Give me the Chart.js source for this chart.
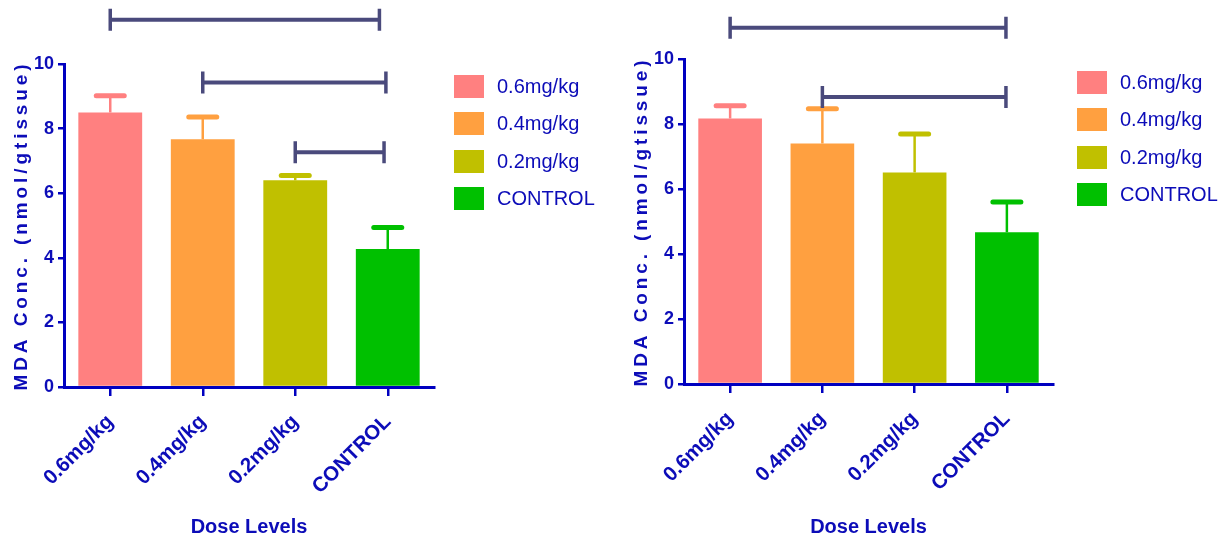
<!DOCTYPE html>
<html>
<head>
<meta charset="utf-8">
<script src="https://cdn.jsdelivr.net/npm/chart.js@4.4.1/dist/chart.umd.min.js"></script>
<style>
  body { margin: 0; background: #fff; font-family: 'Liberation Sans', Arial, sans-serif; }
  .panel { position: absolute; top: 0; height: 542px; }
  .legend { position: absolute; color: #0c0cb8; font-size: 20px; }
  .legend div { display: flex; align-items: center; height: 23px; margin-bottom: 14.3px; white-space: nowrap; }
  .legend span.sw { display: inline-block; width: 30px; height: 23px; margin-right: 13px; }
</style>
</head>
<body>
<div class="panel" style="left:0; width:620px"><canvas id="chartA"></canvas></div>
<div class="panel" style="left:620px; width:598px"><canvas id="chartB"></canvas></div>
<div class="legend" id="legendA" style="left:454px; top:75px"></div>
<div class="legend" id="legendB" style="left:1077px; top:71px"></div>
<script>
// dose groups and colours
const doseLevels = ['0.6mg/kg', '0.4mg/kg', '0.2mg/kg', 'CONTROL'];
const barColors = ['#ff8080', '#ffa040', '#c0c000', '#00c000'];

// left panel: mean MDA and upper error (SEM)
const meanA = [8.50, 7.67, 6.40, 4.27];
const errA = [0.52, 0.69, 0.15, 0.67];
// significance brackets: from / to category, height
const bracketFromA = [0, 1, 2];
const bracketToA = [2.91, 2.98, 2.96];
const bracketYA = [11.37, 9.43, 7.27];

// right panel
const meanB = [8.17, 7.40, 6.51, 4.67];
const errB = [0.39, 1.07, 1.18, 0.93];
const bracketFromB = [0, 1];
const bracketToB = [2.99, 2.99];
const bracketYB = [10.96, 8.83];

const yTicks = [0, 2, 4, 6, 8, 10];

const BLUE = '#0c0cb8';
const AXIS = '#0000c0';
const BRACKET = '#4a4a7c';
const FONT = "'Liberation Sans', Arial, sans-serif";

// html legend, one row per dose group
function buildLegend(id) {
  const box = document.getElementById(id);
  doseLevels.forEach((t, i) => {
    const row = document.createElement('div');
    const sw = document.createElement('span');
    sw.className = 'sw';
    sw.style.background = barColors[i];
    row.appendChild(sw);
    row.appendChild(document.createTextNode(t));
    box.appendChild(row);
  });
}

// upper error bars drawn with the y scale
const errorBars = {
  id: 'errorBars',
  afterDatasetsDraw(chart, args, opts) {
    const ctx = chart.ctx, y = chart.scales.y;
    const meta = chart.getDatasetMeta(0);
    meta.data.forEach((bar, i) => {
      const top = y.getPixelForValue(opts.means[i] + opts.errs[i]);
      ctx.save();
      ctx.strokeStyle = barColors[i];
      ctx.lineWidth = 2.5;
      ctx.beginPath();
      ctx.moveTo(bar.x, bar.y);
      ctx.lineTo(bar.x, top);
      ctx.stroke();
      ctx.lineWidth = 5;
      ctx.lineCap = 'round';
      ctx.beginPath();
      ctx.moveTo(bar.x - 14, top);
      ctx.lineTo(bar.x + 14, top);
      ctx.stroke();
      ctx.restore();
    });
  }
};

// comparison brackets
const brackets = {
  id: 'brackets',
  afterDraw(chart, args, opts) {
    const ctx = chart.ctx, x = chart.scales.x, y = chart.scales.y;
    opts.from.forEach((f, i) => {
      const x1 = x.getPixelForValue(f);
      const x2 = x.getPixelForValue(opts.to[i]);
      const py = y.getPixelForValue(opts.ys[i]);
      ctx.save();
      ctx.strokeStyle = BRACKET;
      ctx.lineWidth = 4;
      ctx.beginPath();
      ctx.moveTo(x1, py);
      ctx.lineTo(x2, py);
      ctx.stroke();
      ctx.lineWidth = 3.5;
      ctx.beginPath();
      ctx.moveTo(x1, py - 11); ctx.lineTo(x1, py + 11);
      ctx.moveTo(x2, py - 11); ctx.lineTo(x2, py + 11);
      ctx.stroke();
      ctx.restore();
    });
  }
};

// spaced-out y axis title
const yTitle = {
  id: 'yTitle',
  afterDraw(chart, args, opts) {
    const ctx = chart.ctx, area = chart.chartArea;
    ctx.save();
    ctx.translate(22, (area.top + area.bottom) / 2);
    ctx.rotate(-Math.PI / 2);
    ctx.font = 'bold 19px ' + FONT;
    ctx.letterSpacing = '3.9px';
    ctx.fillStyle = BLUE;
    ctx.textAlign = 'center';
    ctx.textBaseline = 'middle';
    ctx.fillText(opts.text, 0, 0);
    ctx.restore();
  }
};

function makeChart(id, means, errs, bFrom, bTo, bY, frame) {
  return new Chart(document.getElementById(id), {
    type: 'bar',
    data: {
      labels: doseLevels,
      datasets: [{
        data: means,
        backgroundColor: barColors,
        borderWidth: 0,
        barPercentage: 0.69,
        categoryPercentage: 1
      }]
    },
    options: {
      responsive: true,
      maintainAspectRatio: false,
      animation: false,
      layout: { padding: { top: frame.top, left: 0, right: frame.width - frame.right, bottom: 3 } },
      scales: {
        x: {
          offset: true,
          grid: { offset: false, drawOnChartArea: false, tickLength: 9, color: AXIS, lineWidth: 2.5 },
          border: { color: AXIS, width: 3, z: 1 },
          ticks: { color: BLUE, font: { family: FONT, size: 20.5, weight: 'bold' }, minRotation: 45, maxRotation: 45, padding: 14 },
          title: { display: true, text: 'Dose Levels', color: BLUE, padding: 0, font: { family: FONT, size: 20, weight: 'bold' } },
          afterFit: s => { s.height = 539 - frame.bottom; }
        },
        y: {
          min: 0,
          max: 10,
          afterBuildTicks: s => { s.ticks = yTicks.map(v => ({ value: v })); },
          grid: { drawOnChartArea: false, tickLength: 6, color: AXIS, lineWidth: 2.5 },
          border: { color: AXIS, width: 3, z: 1 },
          ticks: { color: BLUE, font: { family: FONT, size: 18, weight: 'bold' }, padding: 4 },
          afterFit: s => { s.width = 64; }
        }
      },
      plugins: {
        legend: { display: false },
        tooltip: { enabled: false },
        errorBars: { means: means, errs: errs },
        brackets: { from: bFrom, to: bTo, ys: bY },
        yTitle: { text: 'MDA Conc. (nmol/gtissue)' }
      }
    },
    plugins: [errorBars, brackets, yTitle]
  });
}

makeChart('chartA', meanA, errA, bracketFromA, bracketToA, bracketYA,
  { width: 620, top: 64, bottom: 387, right: 434 });
makeChart('chartB', meanB, errB, bracketFromB, bracketToB, bracketYB,
  { width: 598, top: 59, bottom: 384, right: 433 });
buildLegend('legendA');
buildLegend('legendB');
</script>
</body>
</html>
